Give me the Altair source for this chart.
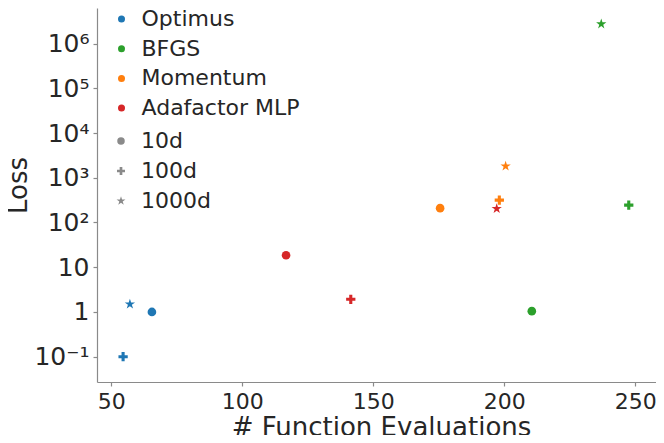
import altair as alt
import pandas as pd
import math

optimizers = ["Optimus", "Optimus", "Optimus",
              "BFGS", "BFGS", "BFGS",
              "Momentum", "Momentum", "Momentum",
              "Adafactor MLP", "Adafactor MLP", "Adafactor MLP"]
dims = ["10d", "100d", "1000d"] * 4
evaluations = [65.5, 54.5, 57.1,
               210.5, 247.5, 237.0,
               175.5, 198.1, 200.5,
               116.7, 141.4, 197.1]
losses = [1.0, 0.1, 1.49,
          1.04, 244, 2.73e6,
          209, 316, 1820,
          18.5, 1.92, 204]

optimizer_order = ["Optimus", "BFGS", "Momentum", "Adafactor MLP"]
optimizer_colors = ["#1f77b4", "#2ca02c", "#ff7f0e", "#d62728"]
dim_order = ["10d", "100d", "1000d"]

PLUS = "M-1.07,-0.357H-0.357V-1.07H0.357V-0.357H1.07V0.357H0.357V1.07H-0.357V0.357H-1.07Z"
STAR = ("M0,-1.25L0.281,-0.386L1.189,-0.386L0.454,0.148L0.735,1.011L0,0.478"
        "L-0.735,1.011L-0.454,0.148L-1.189,-0.386L-0.281,-0.386Z")
dim_shapes = ["circle", PLUS, STAR]

y_tick_values = [0.1, 1, 10, 100, 1e3, 1e4, 1e5, 1e6]
y_tick_labels = ["10⁻¹", "1", "10", "10²", "10³", "10⁴", "10⁵", "10⁶"]
x_tick_values = [50, 100, 150, 200, 250]

df = pd.DataFrame({"optimizer": optimizers, "dim": dims,
                   "evals": evaluations, "loss": losses})

expr = "''"
for v, lab in zip(reversed(y_tick_values), reversed(y_tick_labels)):
    expr = f"abs(log(datum.value)/LN10 - ({math.log10(v)})) < 0.01 ? '{lab}' : ({expr})"

FONT = "DejaVu Sans"
TXT = "#262626"
GRAY = "#8a8a8a"

points = alt.Chart(df).mark_point(filled=True, size=75, opacity=1, strokeWidth=0).encode(
    x=alt.X("evals:Q",
            scale=alt.Scale(domain=[44.54, 257.9], nice=False, zero=False),
            axis=alt.Axis(values=x_tick_values, title="# Function Evaluations",
                          labelFontSize=22, titleFontSize=26, labelPadding=5,
                          titleFontWeight="normal", titleX=284, titleY=53,
                          titleBaseline="alphabetic", titleAlign="center")),
    y=alt.Y("loss:Q",
            scale=alt.Scale(type="log", domain=[0.02716, 6.23e6], nice=False),
            axis=alt.Axis(values=y_tick_values, labelExpr=expr, title="Loss",
                          labelFontSize=25, titleFontSize=26, labelPadding=4,
                          titleFontWeight="normal", titleAngle=270, titleX=-71,
                          titleY=177, titleBaseline="alphabetic", titleAlign="center")),
    color=alt.Color("optimizer:N",
                    scale=alt.Scale(domain=optimizer_order, range=optimizer_colors),
                    legend=alt.Legend(orient="none", legendX=13.5, legendY=0, title=None,
                                      labelFontSize=22, symbolSize=49, symbolType="circle",
                                      symbolStrokeWidth=0, rowPadding=7.7, labelOffset=9,
                                      padding=0, labelColor=TXT, labelFont=FONT)),
    shape=alt.Shape("dim:N",
                    scale=alt.Scale(domain=dim_order, range=dim_shapes),
                    legend=alt.Legend(orient="none", legendX=13, legendY=122, title=None,
                                      labelFontSize=22, symbolSize=56,
                                      symbolFillColor=GRAY, symbolStrokeWidth=0,
                                      rowPadding=8, labelOffset=9, padding=0,
                                      labelColor=TXT, labelFont=FONT)),
)

chart = points.properties(
    width=559, height=374,
    autosize=alt.AutoSizeParams(type="none"),
    padding={"left": 89, "top": 0, "right": 0, "bottom": 53},
).configure(font=FONT).configure_view(stroke=None).configure_axis(
    grid=False, domainColor=GRAY, tickColor=GRAY, tickSize=4,
    labelColor=TXT, titleColor=TXT, labelFont=FONT, titleFont=FONT,
    domainWidth=1.2, tickWidth=1.2,
)

chart.save("out.html", embed_options={"renderer": "svg", "actions": False})
